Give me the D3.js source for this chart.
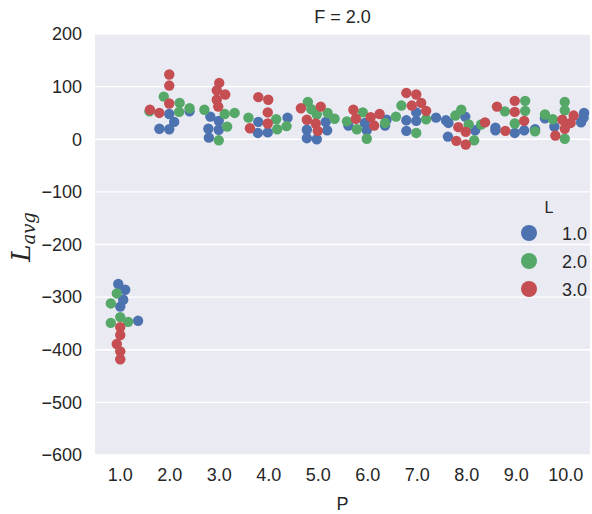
<!DOCTYPE html>
<html>
<head>
<meta charset="utf-8">
<script src="https://cdn.jsdelivr.net/npm/d3@7"></script>
<style>
  body { margin: 0; background: #fff; }
  text { font-family: "Liberation Sans", Arial, sans-serif; fill: #262626; }
</style>
</head>
<body>
<svg id="chart" width="592" height="514"></svg>
<script>
// tick labels
const xTicks = [1, 2, 3, 4, 5, 6, 7, 8, 9, 10];
const yTicks = [200, 100, 0, -100, -200, -300, -400, -500, -600];
const hueLevels = ["1.0", "2.0", "3.0"];
const colors = ["#4c72b0", "#55a868", "#c44e52"];

// L = 1.0 (P position, L_avg)
const pL1 = [0.97, 1.11, 1.07, 1.01, 1.37,
  2.41, 2.00, 2.10, 1.80, 2.00,
  2.83, 3.00, 2.79, 3.00, 2.80,
  3.80, 3.79, 3.99, 4.39,
  5.16, 4.78, 5.19, 4.78, 4.98,
  5.62, 5.95, 5.99, 6.39, 6.36,
  6.99, 6.79, 6.99, 7.39, 6.79,
  7.59, 7.64, 7.98, 8.18, 7.63,
  8.59, 8.59, 8.98, 9.17, 9.39,
  9.59, 9.78, 10.32, 10.38, 10.37];
const vL1 = [-275, -286, -305, -318, -345,
  53, 48, 33, 20, 19,
  43, 35, 20, 18, 3,
  33, 12, 13, 41,
  33, 18, 17, 2, 0,
  26, 31, 17, 37, 26,
  51, 36, 35, 41, 16,
  36, 31, 43, 17, 5,
  22, 17, 12, 17, 19,
  40, 24, 32, 50, 41];

// L = 2.0
const pL2 = [0.94, 0.82, 1.01, 0.82, 1.17,
  1.60, 1.89, 2.21, 2.41, 2.20,
  2.71, 3.12, 3.32, 3.17, 3.00,
  3.60, 4.16, 4.37, 4.18,
  4.80, 4.87, 4.98, 5.20, 5.34,
  5.59, 5.91, 5.79, 5.99, 6.36,
  6.58, 6.69, 7.19, 6.99,
  7.78, 7.90, 8.05, 8.30, 8.16,
  8.78, 9.19, 9.19, 8.98, 9.39,
  9.59, 9.75, 9.99, 9.99, 9.99];
const vL2 = [-293, -312, -338, -349, -347,
  53, 81, 69, 59, 52,
  56, 48, 50, 24, -2,
  41, 38, 25, 19,
  71, 57, 47, 50, 39,
  34, 51, 19, 1, 31,
  43, 64, 38, 12,
  45, 56, 28, 28, -2,
  53, 73, 54, 30, 15,
  47, 38, 71, 55, 1];

// L = 3.0
const pL3 = [1.01, 1.01, 0.94, 1.01, 1.01,
  2.00, 2.00, 2.00, 1.61, 1.80,
  3.01, 2.96, 3.13, 2.96, 2.99,
  3.80, 4.00, 3.99, 3.99, 3.63,
  4.66, 5.06, 4.78, 4.96, 5.00,
  5.72, 6.25, 6.07, 5.77, 6.14,
  6.79, 6.99, 6.90, 7.09, 7.19,
  7.84, 7.99, 7.80, 7.99, 8.38,
  8.62, 8.79, 8.98, 8.98, 9.17,
  9.80, 9.94, 9.99, 10.11, 10.17];
const vL3 = [-357, -372, -389, -403, -418,
  123, 102, 68, 56, 50,
  107, 93, 85, 75, 62,
  80, 75, 51, 30, 21,
  59, 62, 37, 30, 16,
  56, 48, 42, 39, 26,
  88, 85, 64, 69, 54,
  23, 14, -3, -10, 32,
  62, 16, 73, 52, 35,
  7, 37, 20, 31, 45];

const series = [[pL1, vL1], [pL2, vL2], [pL3, vL3]];

const svg = d3.select("#chart");
const margin = { left: 95, right: 2, top: 34, bottom: 59 };
const W = 592, H = 514;
const font = "Liberation Sans, Arial, sans-serif";

const x = d3.scaleLinear().domain([0.5, 10.5]).range([margin.left, W - margin.right]);
const y = d3.scaleLinear().domain([-600, 200]).range([H - margin.bottom, margin.top]);

svg.append("rect")
  .attr("x", margin.left).attr("y", margin.top)
  .attr("width", W - margin.left - margin.right)
  .attr("height", H - margin.top - margin.bottom)
  .attr("fill", "#eaeaf2");

// horizontal grid
svg.append("g").selectAll("line").data(yTicks).join("line")
  .attr("x1", margin.left).attr("x2", W - margin.right)
  .attr("y1", d => y(d)).attr("y2", d => y(d))
  .attr("stroke", "#fff").attr("stroke-width", 1.4);

// y axis
const yAxis = svg.append("g")
  .attr("transform", `translate(${margin.left},0)`)
  .call(d3.axisLeft(y).tickValues(yTicks).tickSize(0).tickPadding(13)
    .tickFormat(d => d < 0 ? "\u2212" + Math.abs(d) : d));
yAxis.select(".domain").remove();
yAxis.selectAll("text").attr("font-size", 18).attr("fill", "#262626")
  .attr("font-family", font);

// x axis
const xAxis = svg.append("g")
  .attr("transform", `translate(0,${H - margin.bottom})`)
  .call(d3.axisBottom(x).tickValues(xTicks).tickSize(0).tickPadding(13)
    .tickFormat(d3.format(".1f")));
xAxis.select(".domain").remove();
xAxis.selectAll("text").attr("font-size", 18).attr("fill", "#262626")
  .attr("font-family", font);

// points
series.forEach(function(s, i) {
  const pts = s[0].map((p, j) => ({ p: p, v: s[1][j] }));
  svg.append("g").selectAll("circle").data(pts).join("circle")
    .attr("cx", d => x(d.p))
    .attr("cy", d => y(d.v))
    .attr("r", 5.2)
    .attr("fill", colors[i]);
});

// title and axis labels
svg.append("text")
  .attr("x", (margin.left + W - margin.right) / 2).attr("y", 23)
  .attr("text-anchor", "middle").attr("font-size", 18)
  .text("F = 2.0");

svg.append("text")
  .attr("x", (margin.left + W - margin.right) / 2).attr("y", 510)
  .attr("text-anchor", "middle").attr("font-size", 18)
  .text("P");

const ylab = svg.append("text")
  .attr("transform", "translate(30,237) rotate(-90)")
  .attr("text-anchor", "middle")
  .style("font-family", "'DejaVu Serif', serif")
  .style("font-style", "italic");
ylab.append("tspan").attr("font-size", 26).text("L");
ylab.append("tspan").attr("font-size", 18).attr("dy", 5).text("avg");

// legend
const lg = svg.append("g");
lg.append("text").attr("x", 549).attr("y", 213)
  .attr("text-anchor", "middle").attr("font-size", 16).text("L");
hueLevels.forEach(function(h, i) {
  lg.append("circle").attr("cx", 529).attr("cy", 233 + i * 28)
    .attr("r", 8).attr("fill", colors[i]);
  lg.append("text").attr("x", 562).attr("y", 239.5 + i * 28)
    .attr("font-size", 18).text(h);
});
</script>
</body>
</html>
